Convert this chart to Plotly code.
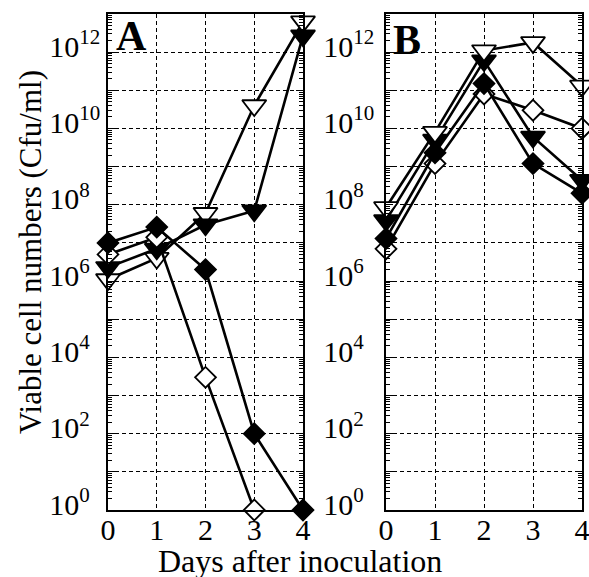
import plotly.graph_objects as go

# ---------------- data ----------------
days = [0, 1, 2, 3, 4]

# Panel A
A_filled_diamond = [1.0e7, 2.6e7, 2.0e6, 1.0e2, 1.0e0]
A_open_diamond_days = [0, 1, 2, 3]
A_open_diamond = [5.0e6, 1.4e7, 3.0e3, 1.0e0]
A_filled_triangle = [2.3e6, 7.0e6, 3.0e7, 7.0e7, 2.7e12]
A_open_triangle = [1.1e6, 4.0e6, 6.0e7, 4.0e10, 6.3e12]

# Panel B
B_open_triangle = [8.5e7, 8.0e9, 1.1e12, 1.8e12, 1.3e11]
B_filled_triangle = [3.9e7, 5.0e9, 6.0e11, 6.0e9, 4.4e8]
B_filled_diamond = [1.3e7, 2.3e9, 1.5e11, 1.2e9, 2.0e8]
B_open_diamond = [7.0e6, 1.2e9, 8.0e10, 3.0e10, 1.0e10]

decades = list(range(0, 14))
label_decades = [0, 2, 4, 6, 8, 10, 12]
x_tick_labels = ["0", "1", "2", "3", "4"]

# ---------------- figure ----------------
W, H = 589, 577
FONT = "Liberation Serif"

fig = go.Figure()


def add_series(xs, ys, symbol, filled, xa, ya):
    fig.add_trace(go.Scatter(
        x=xs, y=ys, mode="lines+markers", xaxis=xa, yaxis=ya,
        line=dict(color="black", width=2.6),
        marker=dict(symbol=symbol,
                    size=21 if "triangle" in symbol else 16,
                    color="black" if filled else "white",
                    line=dict(color="black", width=1.8)),
        cliponaxis=False, showlegend=False, hoverinfo="skip"))


# Panel A
add_series(days, A_open_triangle, "triangle-down", False, "x", "y")
add_series(days, A_filled_triangle, "triangle-down", True, "x", "y")
add_series(A_open_diamond_days, A_open_diamond, "diamond", False, "x", "y")
add_series(days, A_filled_diamond, "diamond", True, "x", "y")

# Panel B
add_series(days, B_open_diamond, "diamond", False, "x2", "y2")
add_series(days, B_filled_diamond, "diamond", True, "x2", "y2")
add_series(days, B_filled_triangle, "triangle-down", True, "x2", "y2")
add_series(days, B_open_triangle, "triangle-down", False, "x2", "y2")

pad = "<span style='color:rgba(0,0,0,0)'>0</span>"
tickvals = [10 ** k for k in decades]
ticktext = []
for k in decades:
    if k in label_decades:
        ticktext.append("10<sup>%d%s</sup>" % (k, pad if k < 10 else ""))
    else:
        ticktext.append("")
minor_vals = [m * 10 ** k for k in range(0, 13) for m in range(2, 10)]

yaxis_common = dict(
    type="log", range=[0, 13], tickmode="array", tickvals=tickvals,
    ticktext=ticktext, ticks="inside", ticklen=7, tickwidth=1,
    tickcolor="black", showline=True, linecolor="black", linewidth=1.5,
    mirror="allticks", showgrid=True, gridcolor="black", gridwidth=1,
    griddash="4px,3px", zeroline=False,
    tickfont=dict(family=FONT, size=30, color="black"),
    minor=dict(tickmode="array", tickvals=minor_vals, ticks="inside",
               ticklen=4, tickcolor="black", tickwidth=1, showgrid=False),
    automargin=False, ticklabelshift=-6,
    domain=[67 / H, 1 - 14 / H])

xaxis_common = dict(
    range=[0, 4], tickmode="array", tickvals=days, ticktext=x_tick_labels,
    ticks="", showline=True, linecolor="black", linewidth=1.5,
    mirror=True, showgrid=True, gridcolor="black", gridwidth=1,
    griddash="4px,3px", zeroline=False,
    tickfont=dict(family=FONT, size=30, color="black"),
    automargin=False, ticklabelstandoff=-8, ticklabeloverflow="allow")

fig.update_layout(
    width=W, height=H,
    margin=dict(l=0, r=0, t=0, b=0),
    paper_bgcolor="white", plot_bgcolor="white",
    font=dict(family=FONT, color="black"),
    xaxis=dict(xaxis_common, domain=[108 / W, 303 / W], anchor="y"),
    xaxis2=dict(xaxis_common, domain=[386 / W, 582 / W], anchor="y2"),
    yaxis=dict(yaxis_common, anchor="x", ticklabelstandoff=0),
    yaxis2=dict(yaxis_common, anchor="x2", ticklabelstandoff=4),
)


def note(text, px, py, size, angle=0):
    fig.add_annotation(text=text, x=px / W, y=1 - py / H, xref="paper",
                       yref="paper", showarrow=False, xanchor="center",
                       yanchor="middle", textangle=angle,
                       font=dict(family=FONT, size=size, color="black"))


note("<b>A</b>", 131, 36, 42)
note("<b>B</b>", 407, 40, 42)
note("Days after inoculation", 300, 561, 32)
note("Viable cell numbers (Cfu/ml)", 30, 252, 31, angle=-90)

fig.write_html("out.html",
               config={"displayModeBar": False},
               post_script="document.body.style.margin='0';"
                           "document.body.style.overflow='hidden';")
